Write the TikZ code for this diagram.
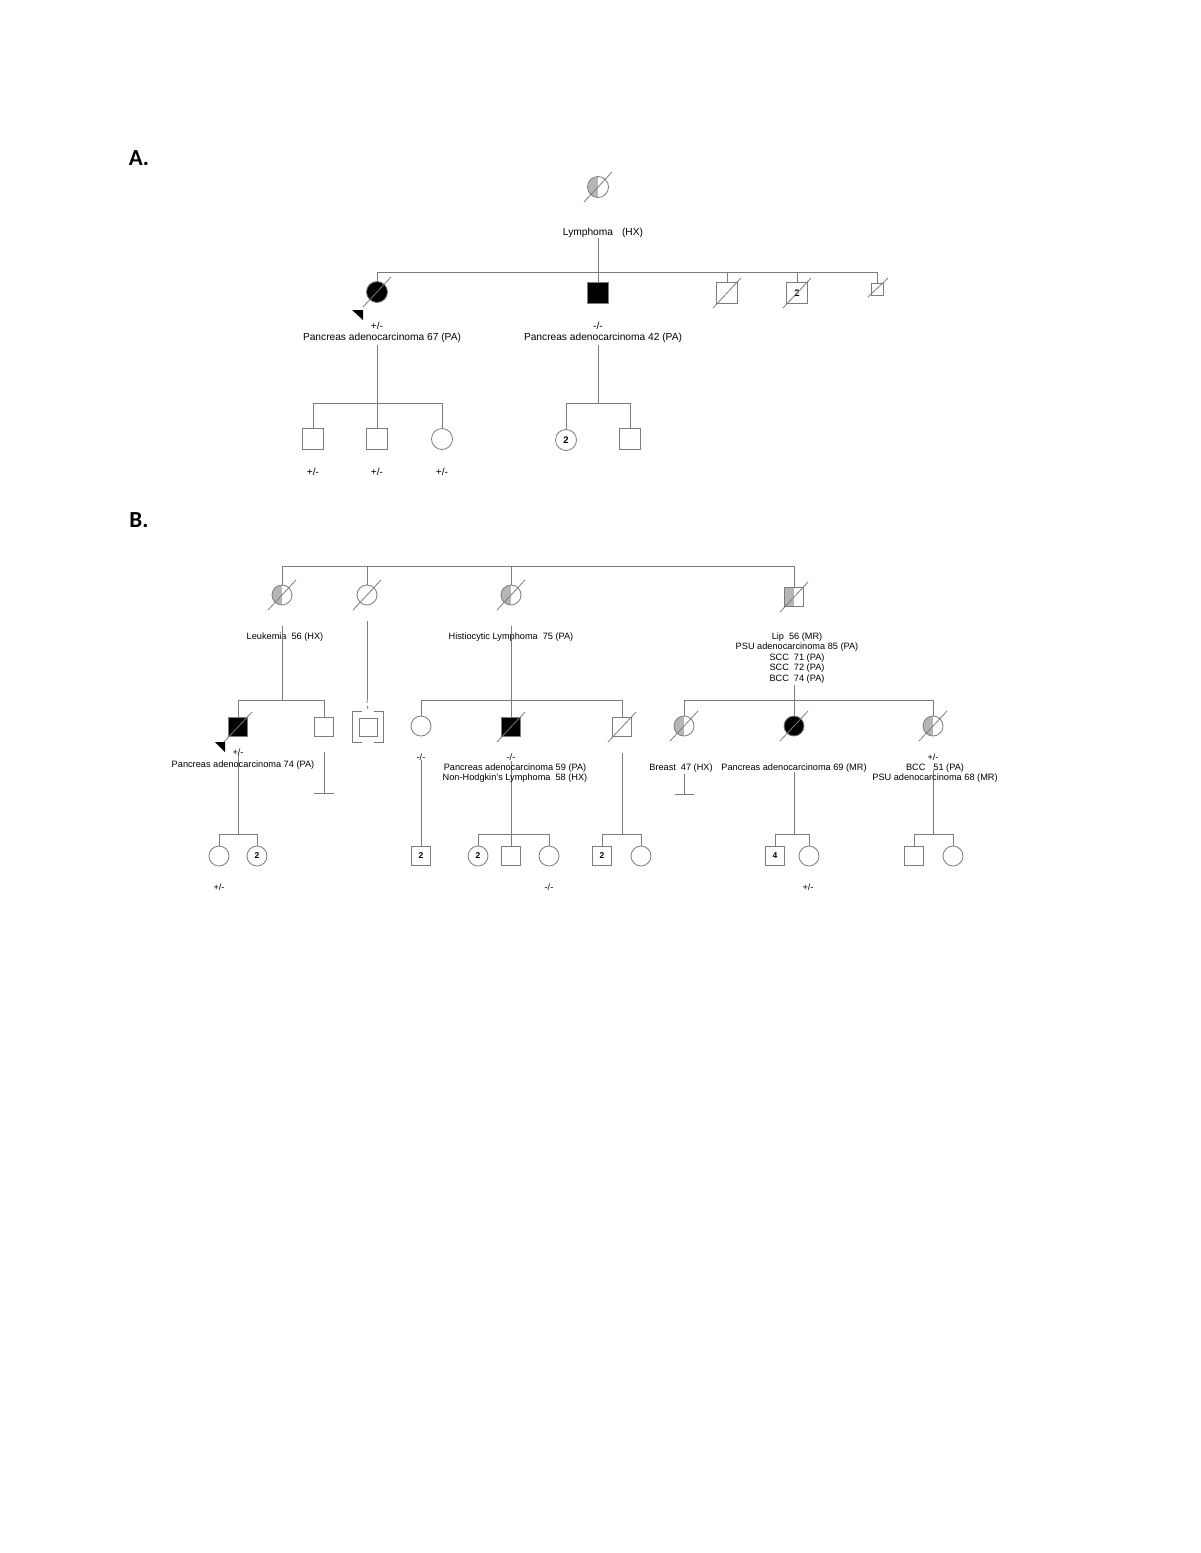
\documentclass[tikz,border=0pt]{standalone}
\usepackage{fontspec}
\setmainfont{Liberation Sans}
\newfontfamily\panelfont{Carlito}
\usetikzlibrary{calc}

\definecolor{lc}{HTML}{7C7C7C}
\definecolor{hg}{HTML}{B6B6B6}

\tikzset{
  ln/.style={draw=lc, line width=0.8pt},
  male/.style={ln, rectangle, minimum size=21pt, inner sep=0pt, fill=white},
  female/.style={ln, circle, minimum size=21pt, inner sep=0pt, fill=white},
  aff/.style={fill=black},
  half/.style={path picture={\fill[hg] (path picture bounding box.south west) rectangle (path picture bounding box.north);}},
  dead/.style={append after command={([shift={(14,-15)}]\tikzlastnode.center) edge[ln] ([shift={(-14,15)}]\tikzlastnode.center)}},
  deadsm/.style={append after command={([shift={(11,-11)}]\tikzlastnode.center) edge[ln] ([shift={(-9,8)}]\tikzlastnode.center)}},
  txa/.style={font=\fontsize{10.2}{11.5}\selectfont, inner sep=0pt, align=center},
  txb/.style={font=\fontsize{9.2}{10.5}\selectfont, inner sep=0pt, align=center},
  num/.style={font=\bfseries\fontsize{9.5}{9.5}\selectfont},
  panel/.style={font=\panelfont\bfseries\fontsize{23}{23}\selectfont, inner sep=0pt},
}

\begin{document}
\begin{tikzpicture}[x=1pt,y=-1pt]
\useasboundingbox[fill=white] (0,0) rectangle (1200,1553);

% ---------------- A.
\node[panel] (labA) at (139,158) {A.};
\node[female,half,dead] (a1) at (598,187) {};
\node[txa] (ta1) at (603,233) {Lymphoma\hspace{9pt}(HX)};

\coordinate (sa) at (598,272);
\node[female,aff,dead] (a21) at (377,292) {};
\node[male,aff] (a22) at (598,293) {};
\node[male,dead] (a23) at (727,293) {};
\node[male,dead,num] (a24) at (797,293) {2};
\node[male,deadsm,minimum size=12pt] (a25) at (877,289) {};
\draw[ln] (ta1.south -| sa) -- (sa);
\draw[ln] (a21 |- sa) -- (a25 |- sa);
\foreach \n in {a21,a22,a23,a24,a25}
  \draw[ln] (\n |- sa) -- (\n.north);
\fill ([shift={(-25,18)}]a21.center) -- ([shift={(-14,18)}]a21.center) -- ([shift={(-14,28)}]a21.center) -- cycle;

\node[txa] (ga21) at (377,326) {+/-};
\node[txa] (da21) at (382,338) {Pancreas adenocarcinoma 67 (PA)};
\node[txa] (ga22) at (598,326) {-/-};
\node[txa] (da22) at (603,338) {Pancreas adenocarcinoma 42 (PA)};

\coordinate (sa1) at (377,403);
\coordinate (sa2) at (598,403);
\node[male] (a31) at (313,439) {};
\node[male] (a32) at (377,439) {};
\node[female] (a33) at (442,439) {};
\node[female,num] (a34) at (566,440) {2};
\node[male] (a35) at (630,439) {};
\draw[ln] ([yshift=-2pt]da21.south -| sa1) -- (sa1);
\draw[ln] ([yshift=-2pt]da22.south -| sa2) -- (sa2);
\draw[ln] (a31 |- sa1) -- (a33 |- sa1);
\draw[ln] (a34 |- sa2) -- (a35 |- sa2);
\foreach \n/\s in {a31/sa1,a32/sa1,a33/sa1,a34/sa2,a35/sa2}
  \draw[ln] (\n |- \s) -- (\n.north);
\node[txa] (ga31) at (313,472) {+/-};
\node[txa] (ga32) at (377,472) {+/-};
\node[txa] (ga33) at (442,472) {+/-};

% ---------------- B.
\node[panel] (labB) at (139,520) {B.};
\begin{scope}[male/.append style={minimum size=19pt}, female/.append style={minimum size=20pt},
  num/.append style={font=\bfseries\fontsize{8.5}{8.5}\selectfont}]
\coordinate (sb) at (282,566);
\node[female,half,dead] (b11) at (282,595) {};
\node[female,dead] (b12) at (367,595) {};
\node[female,half,dead] (b13) at (511,595) {};
\node[male,half,dead] (b14) at (794,597) {};
\draw[ln] (b11 |- sb) -- (b14 |- sb);
\foreach \n in {b11,b12,b13,b14}
  \draw[ln] (\n |- sb) -- (\n.north);

\node[txb] (db11) at (285,637) {Leukemia\hspace{5pt}56 (HX)};
\node[txb] (db13) at (511,637) {Histiocytic Lymphoma\hspace{5pt}75 (PA)};
\node[txb] (db14) at (797,658) {Lip\hspace{5pt}56 (MR)\\PSU adenocarcinoma 85 (PA)\\SCC\hspace{5pt}71 (PA)\\SCC\hspace{5pt}72 (PA)\\BCC\hspace{5pt}74 (PA)};

% generation II
\coordinate (sb1) at (282,700);
\coordinate (sb2) at (367,700);
\coordinate (sb3) at (511,700);
\coordinate (sb6) at (794,700);
\draw[ln] ([yshift=7pt]db11.north -| b11) -- (sb1);
\draw[ln] ([yshift=-16pt]b12.south) -- (sb2);
\draw[ln] ([yshift=7pt]db13.north -| b13) -- (sb3);
\draw[ln] ([yshift=-2pt]db14.south -| sb6) -- (sb6);

\node[male,aff,dead] (b21) at (238,727) {};
\node[male] (b22) at (324,727) {};
\draw[ln] (b21 |- sb1) -- (b22 |- sb1);
\foreach \n in {b21,b22}
  \draw[ln] (\n |- sb1) -- (\n.north);
\fill ([shift={(-23,15)}]b21.center) -- ([shift={(-13,15)}]b21.center) -- ([shift={(-13,25)}]b21.center) -- cycle;

\node[male,minimum size=18pt] (b2x) at (368,727) {};
\coordinate (bt) at (368,711);
\draw[ln,dash pattern=on 3pt off 3pt] (sb2) -- (bt);
\draw[ln] ([shift={(-6,-16)}]b2x.center) -- ([shift={(-16,-16)}]b2x.center) -- ([shift={(-16,15)}]b2x.center) -- ([shift={(-6,15)}]b2x.center);
\draw[ln] ([shift={(6,-16)}]b2x.center) -- ([shift={(15,-16)}]b2x.center) -- ([shift={(15,15)}]b2x.center) -- ([shift={(6,15)}]b2x.center);

\node[female] (b23) at (421,726) {};
\node[male,aff,dead] (b24) at (511,727) {};
\node[male,dead] (b25) at (622,727) {};
\draw[ln] (b23 |- sb3) -- (b25 |- sb3);
\foreach \n in {b23,b24,b25}
  \draw[ln] (\n |- sb3) -- (\n.north);

\node[female,half,dead] (b26) at (684,726) {};
\node[female,aff,dead] (b27) at (794,726) {};
\node[female,half,dead] (b28) at (933,726) {};
\draw[ln] (b26 |- sb6) -- (b28 |- sb6);
\foreach \n in {b26,b27,b28}
  \draw[ln] (\n |- sb6) -- (\n.north);

% generation III
\coordinate (sb9) at (238,834);
\coordinate (sb4) at (511,834);
\coordinate (sb5) at (622,834);
\coordinate (sb7) at (794,834);
\coordinate (sb8) at (933,834);
\coordinate (nb22) at (324,793);
\coordinate (nb26) at (684,794);

\node[female] (b31) at (219,856) {};
\node[female,num] (b32) at (257,856) {2};
\node[male,num] (b33) at (421,856) {2};
\node[female,num] (b34) at (478,856) {2};
\node[male] (b35) at (511,856) {};
\node[female] (b36) at (549,856) {};
\node[male,num] (b37) at (602,856) {2};
\node[female] (b38) at (641,856) {};
\node[male,num] (b39) at (775,856) {4};
\node[female] (b3a) at (809,856) {};
\node[male] (b3b) at (914,856) {};
\node[female] (b3c) at (953,856) {};

\draw[ln] ([yshift=-16pt]b21.south) -- (sb9);
\draw[ln] ([yshift=-15pt]b22.south) -- (nb22);
\draw[ln] ([xshift=-10pt]nb22) -- ([xshift=10pt]nb22);
\draw[ln] ([yshift=-24pt]b23.south) -- (b33.north);
\draw[ln] ([yshift=-24pt]b24.south) -- (sb4);
\draw[ln] ([yshift=-16pt]b25.south) -- (sb5);
\draw[ln] ([yshift=-38pt]b26.south) -- (nb26);
\draw[ln] ([xshift=-9pt]nb26) -- ([xshift=10pt]nb26);
\draw[ln] ([yshift=-36pt]b27.south) -- (sb7);
\draw[ln] ([yshift=-34pt]b28.south) -- (sb8);

\draw[ln] (b31 |- sb9) -- (b32 |- sb9);
\draw[ln] (b34 |- sb4) -- (b36 |- sb4);
\draw[ln] (b37 |- sb5) -- (b38 |- sb5);
\draw[ln] (b39 |- sb7) -- (b3a |- sb7);
\draw[ln] (b3b |- sb8) -- (b3c |- sb8);
\foreach \n/\s in {b31/sb9,b32/sb9,b34/sb4,b35/sb4,b36/sb4,b37/sb5,b38/sb5,b39/sb7,b3a/sb7,b3b/sb8,b3c/sb8}
  \draw[ln] (\n |- \s) -- (\n.north);
\end{scope}

% labels of generation II and III
\node[txb] (gb21) at (238,752) {+/-};
\node[txb] (db21) at (243,765) {Pancreas adenocarcinoma 74 (PA)};
\node[txb] (gb23) at (421,757) {-/-};
\node[txb] (gb24) at (511,757) {-/-};
\node[txb] (db24) at (515,773) {Pancreas adenocarcinoma 59 (PA)\\Non-Hodgkin's Lymphoma\hspace{5pt}58 (HX)};
\node[txb] (db26) at (681,768) {Breast\hspace{5pt}47 (HX)};
\node[txb] (db27) at (794,768) {Pancreas adenocarcinoma 69 (MR)};
\node[txb] (gb28) at (933,757) {+/-};
\node[txb] (db28) at (935,773) {BCC\hspace{8pt}51 (PA)\\PSU adenocarcinoma 68 (MR)};
\node[txb] (gb31) at (219,887) {+/-};
\node[txb] (gb36) at (549,887) {-/-};
\node[txb] (gb3a) at (808,887) {+/-};
\end{tikzpicture}
\end{document}
